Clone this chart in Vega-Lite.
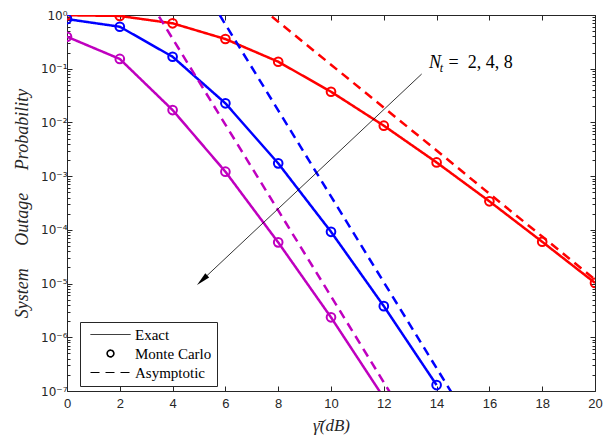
{
  "$schema": "https://vega.github.io/schema/vega-lite/v6.json",
  "width": 528,
  "height": 376,
  "autosize": {"type": "none"},
  "padding": {"left": 67, "top": 15, "right": 18, "bottom": 45},
  "background": "white",
  "config": {
    "view": {"stroke": null},
    "axis": {
      "grid": false,
      "domainColor": "#262626",
      "domainWidth": 1,
      "tickColor": "#262626",
      "tickWidth": 1,
      "labelColor": "#262626",
      "labelFont": "Liberation Sans",
      "labelFontSize": 13,
      "labelFlush": false,
      "labelOverlap": false,
      "titleColor": "#262626",
      "titleFont": "Liberation Serif",
      "titleFontStyle": "italic",
      "titleFontWeight": "normal",
      "titleFontSize": 16
    }
  },
  "datasets": {
    "curves": [
      {"Nt": "2", "kind": "Exact", "x": 0, "p": 0.99},
      {"Nt": "2", "kind": "Exact", "x": 2, "p": 0.96},
      {"Nt": "2", "kind": "Exact", "x": 4, "p": 0.70},
      {"Nt": "2", "kind": "Exact", "x": 6, "p": 0.357},
      {"Nt": "2", "kind": "Exact", "x": 8, "p": 0.135},
      {"Nt": "2", "kind": "Exact", "x": 10, "p": 0.0373},
      {"Nt": "2", "kind": "Exact", "x": 12, "p": 0.0087},
      {"Nt": "2", "kind": "Exact", "x": 14, "p": 0.0018},
      {"Nt": "2", "kind": "Exact", "x": 16, "p": 0.00034},
      {"Nt": "2", "kind": "Exact", "x": 18, "p": 0.000060},
      {"Nt": "2", "kind": "Exact", "x": 20, "p": 0.0000103},
      {"Nt": "4", "kind": "Exact", "x": 0, "p": 0.84},
      {"Nt": "4", "kind": "Exact", "x": 2, "p": 0.605},
      {"Nt": "4", "kind": "Exact", "x": 4, "p": 0.167},
      {"Nt": "4", "kind": "Exact", "x": 6, "p": 0.0227},
      {"Nt": "4", "kind": "Exact", "x": 8, "p": 0.00173},
      {"Nt": "4", "kind": "Exact", "x": 10, "p": 0.000092},
      {"Nt": "4", "kind": "Exact", "x": 12, "p": 0.0000038},
      {"Nt": "4", "kind": "Exact", "x": 14, "p": 0.000000129},
      {"Nt": "8", "kind": "Exact", "x": 0, "p": 0.394},
      {"Nt": "8", "kind": "Exact", "x": 2, "p": 0.152},
      {"Nt": "8", "kind": "Exact", "x": 4, "p": 0.017},
      {"Nt": "8", "kind": "Exact", "x": 6, "p": 0.00121},
      {"Nt": "8", "kind": "Exact", "x": 8, "p": 0.0000585},
      {"Nt": "8", "kind": "Exact", "x": 10, "p": 0.00000235},
      {"Nt": "8", "kind": "Exact", "x": 12, "p": 0.000000075},
      {"Nt": "2", "kind": "Asymptotic", "x": 6, "p": 4.74},
      {"Nt": "2", "kind": "Asymptotic", "x": 8, "p": 0.75},
      {"Nt": "2", "kind": "Asymptotic", "x": 10, "p": 0.119},
      {"Nt": "2", "kind": "Asymptotic", "x": 12, "p": 0.0189},
      {"Nt": "2", "kind": "Asymptotic", "x": 14, "p": 0.0030},
      {"Nt": "2", "kind": "Asymptotic", "x": 16, "p": 0.00047},
      {"Nt": "2", "kind": "Asymptotic", "x": 18, "p": 0.000075},
      {"Nt": "2", "kind": "Asymptotic", "x": 20, "p": 0.0000119},
      {"Nt": "4", "kind": "Asymptotic", "x": 4, "p": 26.6},
      {"Nt": "4", "kind": "Asymptotic", "x": 6, "p": 0.668},
      {"Nt": "4", "kind": "Asymptotic", "x": 8, "p": 0.0168},
      {"Nt": "4", "kind": "Asymptotic", "x": 10, "p": 0.00042},
      {"Nt": "4", "kind": "Asymptotic", "x": 12, "p": 0.0000106},
      {"Nt": "4", "kind": "Asymptotic", "x": 14, "p": 0.000000266},
      {"Nt": "4", "kind": "Asymptotic", "x": 16, "p": 0.0000000067},
      {"Nt": "8", "kind": "Asymptotic", "x": 2, "p": 14.5},
      {"Nt": "8", "kind": "Asymptotic", "x": 4, "p": 0.363},
      {"Nt": "8", "kind": "Asymptotic", "x": 6, "p": 0.0091},
      {"Nt": "8", "kind": "Asymptotic", "x": 8, "p": 0.00023},
      {"Nt": "8", "kind": "Asymptotic", "x": 10, "p": 0.0000058},
      {"Nt": "8", "kind": "Asymptotic", "x": 12, "p": 0.000000145},
      {"Nt": "8", "kind": "Asymptotic", "x": 14, "p": 0.0000000036}
    ]
  },
  "layer": [
    {
      "layer": [
        {
          "data": {"name": "curves"},
          "mark": {"type": "line", "strokeWidth": 2.5, "clip": true},
          "encoding": {
            "x": {
              "field": "x", "type": "quantitative",
              "scale": {"domain": [0, 20], "nice": false, "zero": false},
              "axis": {
                "values": [0, 2, 4, 6, 8, 10, 12, 14, 16, 18, 20],
                "tickSize": -5,
                "labelPadding": 11,
                "labelFont": "Liberation Sans",
                "labelFontSize": 13,
                "labelColor": "#262626",
                "labelFlush": false,
                "title": "γ̄(dB)",
                "titleFont": "Liberation Serif",
                "titleFontSize": 17,
                "titleFontStyle": "italic",
                "titleFontWeight": "normal",
                "titleColor": "#262626",
                "titleBaseline": "middle",
                "titleY": 34
              }
            },
            "y": {
              "field": "p", "type": "quantitative",
              "scale": {"type": "log", "domain": [1e-7, 1], "nice": false},
              "axis": {
                "values": [1e-7, 2e-7, 3e-7, 4e-7, 5e-7, 6e-7, 7e-7, 8e-7, 9e-7, 1e-6, 2e-6, 3e-6, 4e-6, 5e-6, 6e-6, 7e-6, 8e-6, 9e-6, 1e-5, 2e-5, 3e-5, 4e-5, 5e-5, 6e-5, 7e-5, 8e-5, 9e-5, 1e-4, 2e-4, 3e-4, 4e-4, 5e-4, 6e-4, 7e-4, 8e-4, 9e-4, 0.001, 0.002, 0.003, 0.004, 0.005, 0.006, 0.007, 0.008, 0.009, 0.01, 0.02, 0.03, 0.04, 0.05, 0.06, 0.07, 0.08, 0.09, 0.1, 0.2, 0.3, 0.4, 0.5, 0.6, 0.7, 0.8, 0.9, 1],
                "tickSize": {"condition": {"test": "abs(log(datum.value)/LN10 - round(log(datum.value)/LN10)) < 0.001", "value": -5}, "value": -3},
                "labelExpr": "abs(log(datum.value)/LN10 - round(log(datum.value)/LN10)) > 0.001 ? '' : ['10⁰','10⁻¹','10⁻²','10⁻³','10⁻⁴','10⁻⁵','10⁻⁶','10⁻⁷'][-round(log(datum.value)/LN10)]",
                "labelPadding": 5,
                "labelFont": "DejaVu Sans",
                "labelFontSize": 12,
                "labelColor": "#262626",
                "labelFlush": false,
                "labelOverlap": false,
                "title": "System\u00a0\u00a0\u00a0\u00a0\u00a0Outage\u00a0\u00a0\u00a0\u00a0\u00a0Probability",
                "titleFont": "Liberation Serif",
                "titleFontSize": 18,
                "titleFontStyle": "italic",
                "titleFontWeight": "normal",
                "titleColor": "#262626",
                "titleX": -45,
                "titleY": 188,
                "titleBaseline": "middle",
                "titleAngle": -90
              }
            },
            "color": {
              "field": "Nt", "type": "nominal",
              "scale": {"domain": ["2", "4", "8"], "range": ["#FF0000", "#0000FF", "#BF00BF"]},
              "legend": null
            },
            "strokeDash": {
              "field": "kind", "type": "nominal",
              "scale": {"domain": ["Exact", "Monte Carlo", "Asymptotic"], "range": [[1, 0], [1, 0], [9, 6]]},
              "legend": {
                "orient": "none",
                "legendX": 13,
                "legendY": 307,
                "title": null,
                "symbolType": "M-4,0H4",
                "symbolSize": 100,
                "symbolStrokeWidth": 1,
                "symbolStrokeColor": "black",
                "symbolFillColor": "transparent",
                "symbolOffset": 18,
                "labelOffset": 17,
                "labelFont": "Liberation Serif",
                "labelFontSize": 15,
                "labelColor": "black",
                "rowPadding": 3,
                "padding": 5,
                "strokeColor": "#262626",
                "fillColor": "white",
                "labelExpr": "datum.label + '\u2003\u2003\u2002'",
                "encode": {
                  "symbols": {
                    "update": {
                      "shape": {"signal": "datum.value === 'Monte Carlo' ? 'circle' : 'M-4,0H4'"},
                      "size": {"signal": "datum.value === 'Monte Carlo' ? 45 : 100"},
                      "strokeWidth": {"signal": "datum.value === 'Monte Carlo' ? 1.6 : 1"},
                      "stroke": {"value": "black"},
                      "fill": {"value": "transparent"}
                    }
                  }
                }
              }
            }
          }
        },
        {
          "data": {"name": "curves"},
          "transform": [{"filter": "datum.kind === 'Exact' && datum.p >= 1e-7"}],
          "mark": {"type": "point", "shape": "circle", "size": 75, "strokeWidth": 2, "filled": false, "opacity": 1, "clip": true},
          "encoding": {
            "x": {"field": "x", "type": "quantitative", "scale": {"domain": [0, 20], "nice": false, "zero": false}},
            "y": {"field": "p", "type": "quantitative", "scale": {"type": "log", "domain": [1e-7, 1], "nice": false}},
            "color": {"field": "Nt", "type": "nominal", "scale": {"domain": ["2", "4", "8"], "range": ["#FF0000", "#0000FF", "#BF00BF"]}, "legend": null}
          }
        },
        {
          "data": {"values": [{"x": 13.435, "p": 0.0797, "xe": 5.118, "pe": 0.00001156}]},
          "mark": {"type": "rule", "color": "black", "strokeWidth": 0.8},
          "encoding": {
            "x": {"field": "x", "type": "quantitative", "scale": {"domain": [0, 20], "nice": false, "zero": false}},
            "y": {"field": "p", "type": "quantitative", "scale": {"type": "log", "domain": [1e-7, 1], "nice": false}},
            "x2": {"field": "xe"},
            "y2": {"field": "pe"}
          }
        },
        {
          "data": {"values": [{"x": 5.118, "p": 0.00001156}]},
          "mark": {"type": "point", "shape": "M0,-1L0.4,1L-0.4,1Z", "size": 196, "angle": 226.8, "filled": true, "color": "black", "opacity": 1, "strokeWidth": 0},
          "encoding": {
            "x": {"field": "x", "type": "quantitative", "scale": {"domain": [0, 20], "nice": false, "zero": false}},
            "y": {"field": "p", "type": "quantitative", "scale": {"type": "log", "domain": [1e-7, 1], "nice": false}}
          }
        },
        {
          "data": {"values": [{"x": 13.71, "p": 0.103, "t": "N"}]},
          "mark": {"type": "text", "font": "Liberation Serif", "fontSize": 18, "fontStyle": "italic", "align": "left", "baseline": "alphabetic", "color": "black"},
          "encoding": {
            "x": {"field": "x", "type": "quantitative", "scale": {"domain": [0, 20], "nice": false, "zero": false}},
            "y": {"field": "p", "type": "quantitative", "scale": {"type": "log", "domain": [1e-7, 1], "nice": false}},
            "text": {"field": "t"}
          }
        },
        {
          "data": {"values": [{"x": 14.12, "p": 0.0868, "t": "t"}]},
          "mark": {"type": "text", "font": "Liberation Serif", "fontSize": 12, "fontStyle": "italic", "align": "left", "baseline": "alphabetic", "color": "black"},
          "encoding": {
            "x": {"field": "x", "type": "quantitative", "scale": {"domain": [0, 20], "nice": false, "zero": false}},
            "y": {"field": "p", "type": "quantitative", "scale": {"type": "log", "domain": [1e-7, 1], "nice": false}},
            "text": {"field": "t"}
          }
        },
        {
          "data": {"values": [{"x": 14.45, "p": 0.103, "t": "=\u00a0\u00a02, 4, 8"}]},
          "mark": {"type": "text", "font": "Liberation Serif", "fontSize": 18, "align": "left", "baseline": "alphabetic", "color": "black"},
          "encoding": {
            "x": {"field": "x", "type": "quantitative", "scale": {"domain": [0, 20], "nice": false, "zero": false}},
            "y": {"field": "p", "type": "quantitative", "scale": {"type": "log", "domain": [1e-7, 1], "nice": false}},
            "text": {"field": "t"}
          }
        }
      ]
    },
    {
      "data": {"name": "curves"},
      "mark": {"type": "point", "opacity": 0, "clip": true},
      "encoding": {
        "x": {
          "field": "x", "type": "quantitative",
          "scale": {"domain": [0, 20], "nice": false, "zero": false},
          "axis": {"orient": "top", "values": [0, 2, 4, 6, 8, 10, 12, 14, 16, 18, 20], "tickSize": -5, "labels": false, "title": null}
        },
        "y": {
          "field": "p", "type": "quantitative",
          "scale": {"type": "log", "domain": [1e-7, 1], "nice": false},
          "axis": {
            "orient": "right",
            "values": [1e-7, 2e-7, 3e-7, 4e-7, 5e-7, 6e-7, 7e-7, 8e-7, 9e-7, 1e-6, 2e-6, 3e-6, 4e-6, 5e-6, 6e-6, 7e-6, 8e-6, 9e-6, 1e-5, 2e-5, 3e-5, 4e-5, 5e-5, 6e-5, 7e-5, 8e-5, 9e-5, 1e-4, 2e-4, 3e-4, 4e-4, 5e-4, 6e-4, 7e-4, 8e-4, 9e-4, 0.001, 0.002, 0.003, 0.004, 0.005, 0.006, 0.007, 0.008, 0.009, 0.01, 0.02, 0.03, 0.04, 0.05, 0.06, 0.07, 0.08, 0.09, 0.1, 0.2, 0.3, 0.4, 0.5, 0.6, 0.7, 0.8, 0.9, 1],
            "tickSize": {"condition": {"test": "abs(log(datum.value)/LN10 - round(log(datum.value)/LN10)) < 0.001", "value": -5}, "value": -3},
            "labels": false,
            "title": null
          }
        }
      }
    }
  ],
  "resolve": {"scale": {"x": "independent", "y": "independent"}}
}
